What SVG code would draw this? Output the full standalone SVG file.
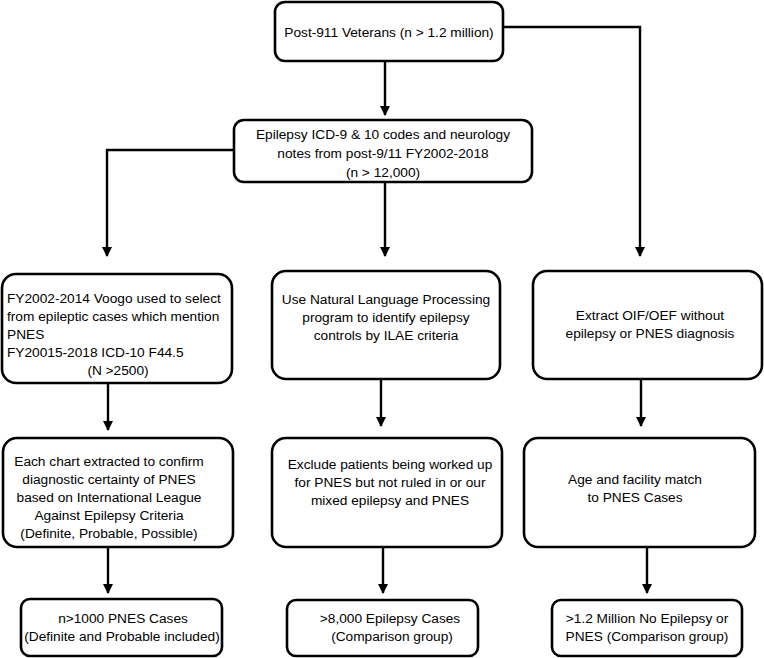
<svg xmlns="http://www.w3.org/2000/svg" width="764" height="658" viewBox="0 0 764 658">
<style>
.box{fill:#fff;stroke:#000;stroke-width:2.6}
.t{font-family:"Liberation Sans",Arial,sans-serif;font-size:13.7px;fill:#000}
.c{text-anchor:middle}
.ln{fill:none;stroke:#000;stroke-width:2.4}
</style>
<defs>
<marker id="ah" viewBox="0 0 10 10" refX="9" refY="5" markerWidth="4.2" markerHeight="4.2" orient="auto" markerUnits="strokeWidth">
<path d="M0,0 L10,5 L0,10 z" fill="#000"/>
</marker>
</defs>
<rect width="764" height="658" fill="#fff"/>
<g id="connectors">
<path class="ln" d="M385,61 V115" marker-end="url(#ah)"/>
<path class="ln" d="M503,27 H640 V256" marker-end="url(#ah)"/>
<path class="ln" d="M234,150 H107 V256" marker-end="url(#ah)"/>
<path class="ln" d="M385,182 V256" marker-end="url(#ah)"/>
<path class="ln" d="M108,383 V430" marker-end="url(#ah)"/>
<path class="ln" d="M381,379 V426" marker-end="url(#ah)"/>
<path class="ln" d="M641,379 V426" marker-end="url(#ah)"/>
<path class="ln" d="M108,547 V593" marker-end="url(#ah)"/>
<path class="ln" d="M383,547 V593" marker-end="url(#ah)"/>
<path class="ln" d="M647,547 V593" marker-end="url(#ah)"/>
</g>
<g id="n1">
<rect class="box" x="275" y="2" width="228" height="59" rx="10"/>
<text class="t c" x="389" y="37">Post-911 Veterans (n &gt; 1.2 million)</text>
</g>
<g id="n2">
<rect class="box" x="234" y="120" width="298" height="62" rx="10"/>
<text class="t c" x="383" y="139">Epilepsy ICD-9 &amp; 10 codes and neurology</text>
<text class="t c" x="383" y="158">notes from post-9/11 FY2002-2018</text>
<text class="t c" x="383" y="177">(n &gt; 12,000)</text>
</g>
<g id="n3">
<rect class="box" x="2" y="274" width="230" height="109" rx="14"/>
<text class="t" x="7" y="303">FY2002-2014 Voogo used to select</text>
<text class="t" x="7" y="321">from epileptic cases which mention</text>
<text class="t" x="7" y="339">PNES</text>
<text class="t" x="7" y="357">FY20015-2018 ICD-10 F44.5</text>
<text class="t c" x="118" y="375">(N &gt;2500)</text>
</g>
<g id="n4">
<rect class="box" x="272" y="271" width="228" height="108" rx="14"/>
<text class="t c" x="386" y="304">Use Natural Language Processing</text>
<text class="t c" x="386" y="322">program to identify epilepsy</text>
<text class="t c" x="386" y="340">controls by ILAE criteria</text>
</g>
<g id="n5">
<rect class="box" x="533" y="271" width="229" height="108" rx="14"/>
<text class="t c" x="650" y="320">Extract OIF/OEF without</text>
<text class="t c" x="650" y="338">epilepsy or PNES diagnosis</text>
</g>
<g id="n6">
<rect class="box" x="3" y="438" width="230" height="109" rx="14"/>
<text class="t c" x="109" y="466">Each chart extracted to confirm</text>
<text class="t c" x="109" y="484">diagnostic certainty of PNES</text>
<text class="t c" x="109" y="502">based on International League</text>
<text class="t c" x="109" y="520">Against Epilepsy Criteria</text>
<text class="t c" x="109" y="538">(Definite, Probable, Possible)</text>
</g>
<g id="n7">
<rect class="box" x="272" y="438" width="230" height="109" rx="14"/>
<text class="t c" x="390" y="469">Exclude patients being worked up</text>
<text class="t c" x="390" y="487">for PNES but not ruled in or our</text>
<text class="t c" x="390" y="505">mixed epilepsy and PNES</text>
</g>
<g id="n8">
<rect class="box" x="524" y="438" width="231" height="109" rx="14"/>
<text class="t c" x="635" y="484">Age and facility match</text>
<text class="t c" x="635" y="502">to PNES Cases</text>
</g>
<g id="n9">
<rect class="box" x="21" y="599" width="201" height="57" rx="9"/>
<text class="t c" x="123" y="623">n&gt;1000 PNES Cases</text>
<text class="t c" x="122" y="641">(Definite and Probable included)</text>
</g>
<g id="n10">
<rect class="box" x="287" y="600" width="191" height="56" rx="9"/>
<text class="t c" x="390" y="623">&gt;8,000 Epilepsy Cases</text>
<text class="t c" x="392" y="641">(Comparison group)</text>
</g>
<g id="n11">
<rect class="box" x="552" y="600" width="190" height="56" rx="9"/>
<text class="t c" x="647" y="623">&gt;1.2 Million No Epilepsy or</text>
<text class="t c" x="647" y="641">PNES (Comparison group)</text>
</g>
</svg>
